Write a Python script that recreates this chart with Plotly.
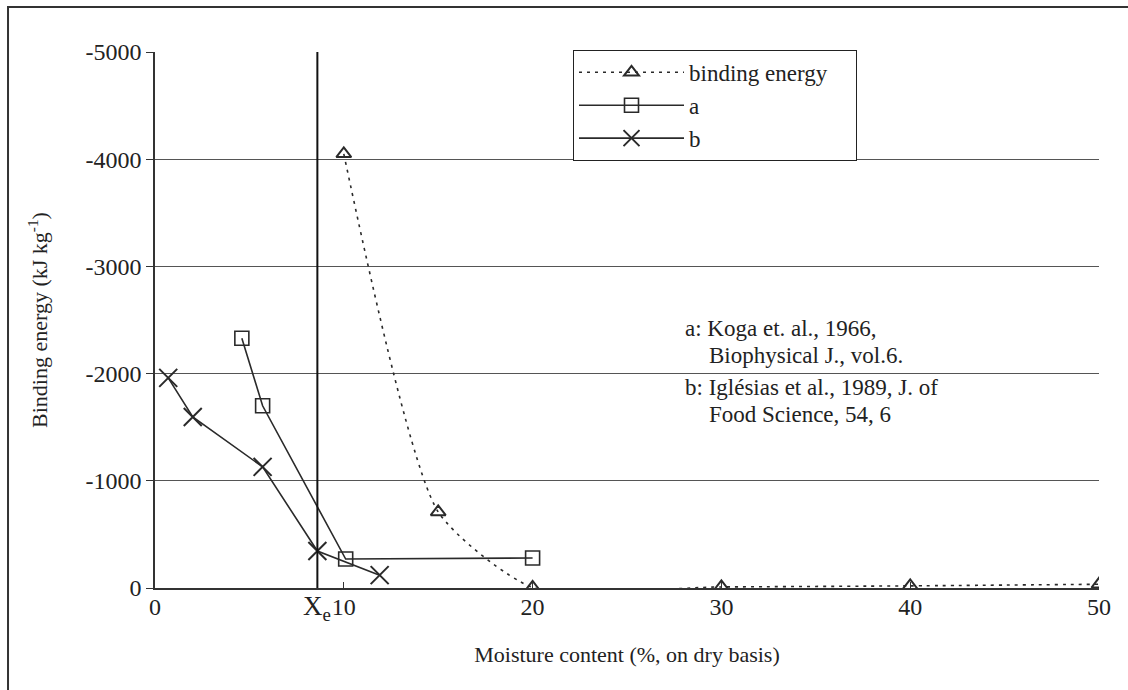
import plotly.graph_objects as go

# Data
be_x = [10, 15, 20, 30, 40, 50]
be_y = [-4050, -710, -5, -10, -20, -35]
a_x = [4.6, 5.7, 10.1, 20.0]
a_y = [-2330, -1700, -270, -280]
b_x = [0.7, 2.0, 5.7, 8.6, 11.9]
b_y = [-1960, -1595, -1130, -345, -120]
x_e = 8.6
x_ticks = [0, 10, 20, 30, 40, 50]
y_ticks = [0, -1000, -2000, -3000, -4000, -5000]
notes = ["a: Koga et. al., 1966,", "Biophysical J., vol.6.",
         "b: Iglésias et al., 1989, J. of", "Food Science, 54, 6"]

FONT = "Liberation Serif, Times New Roman, serif"
INK = "#2a2a2a"
NB = "\u00a0"

fig = go.Figure()
fig.add_trace(go.Scatter(
    x=be_x, y=be_y, name="binding energy" + NB * 4, mode="lines+markers",
    line=dict(color=INK, width=1.6, dash="3px,5px", shape="spline", smoothing=0.6),
    marker=dict(symbol="triangle-up-open", size=13, color=INK, line=dict(width=2)),
    legendgroup="g1"))
fig.add_trace(go.Scatter(
    x=a_x, y=a_y, name="a", mode="lines+markers",
    line=dict(color=INK, width=1.6),
    marker=dict(symbol="square-open", size=14, color=INK, line=dict(width=1.6)),
    legendgroup="g2"))
fig.add_trace(go.Scatter(
    x=b_x, y=b_y, name="b", mode="lines+markers",
    line=dict(color=INK, width=1.6),
    marker=dict(symbol="x-thin-open", size=18, color=INK, line=dict(width=2, color=INK)),
    legendgroup="g3"))

# X_e vertical line
fig.add_shape(type="line", xref="x", yref="paper", x0=x_e, x1=x_e, y0=0, y1=1,
              line=dict(color="#111", width=2))

fig.add_annotation(x=x_e, xref="x", y=-0.002, yref="paper", yanchor="top",
                   text="X<sub>e</sub>", showarrow=False,
                   font=dict(family=FONT, size=27, color="#222"))

note_x = [0.5593, 0.5847, 0.5593, 0.5847]
note_y = [0.485, 0.433, 0.375, 0.3228]
for t, nx, ny in zip(notes, note_x, note_y):
    fig.add_annotation(x=nx, y=ny, xref="paper", yref="paper", xanchor="left",
                       yanchor="middle", text=t, showarrow=False,
                       font=dict(family=FONT, size=23, color="#222"))

# outer frame (top and left edges visible in the scan)
fig.add_shape(type="rect", xref="paper", yref="paper", x0=-0.1557, x1=1.06,
              y0=-0.23, y1=1.084, line=dict(color="#333", width=2), layer="below")

fig.update_layout(
    width=1128, height=690,
    margin=dict(l=155, r=29, t=52, b=102),
    paper_bgcolor="white", plot_bgcolor="white",
    font=dict(family=FONT, size=22, color="#222"),
    showlegend=True,
    legend=dict(x=0.4428, y=1.004, xanchor="left", yanchor="top",
                bgcolor="white", bordercolor="#222", borderwidth=1,
                font=dict(family=FONT, size=23, color="#222"),
                itemwidth=105, tracegroupgap=20, traceorder="normal"),
    xaxis=dict(range=[0, 50], tickvals=x_ticks, ticktext=[str(v) for v in x_ticks],
               showgrid=False, zeroline=False, showline=True, linecolor="#333",
               linewidth=1.5, ticks="inside", ticklen=6, tickcolor="#333",
               ticklabelstandoff=-4,
               tickfont=dict(family=FONT, size=24, color="#222"),
               title=dict(text="Moisture content (%, on dry basis)",
                          font=dict(family=FONT, size=22, color="#222"), standoff=28)),
    yaxis=dict(range=[0, -5000], tickvals=y_ticks, ticktext=[str(v) for v in y_ticks],
               showgrid=True, gridcolor="#555", gridwidth=1, zeroline=False,
               showline=True, linecolor="#333", linewidth=1.5,
               ticks="outside", ticklen=7, tickcolor="#333",
               tickfont=dict(family=FONT, size=24, color="#222"),
               title=dict(text="Binding energy (kJ kg<sup>-1</sup>)",
                          font=dict(family=FONT, size=22, color="#222"), standoff=32)),
)

fig.write_html("out.html", config={"displayModeBar": False},
               post_script="document.body.style.margin='0';")
